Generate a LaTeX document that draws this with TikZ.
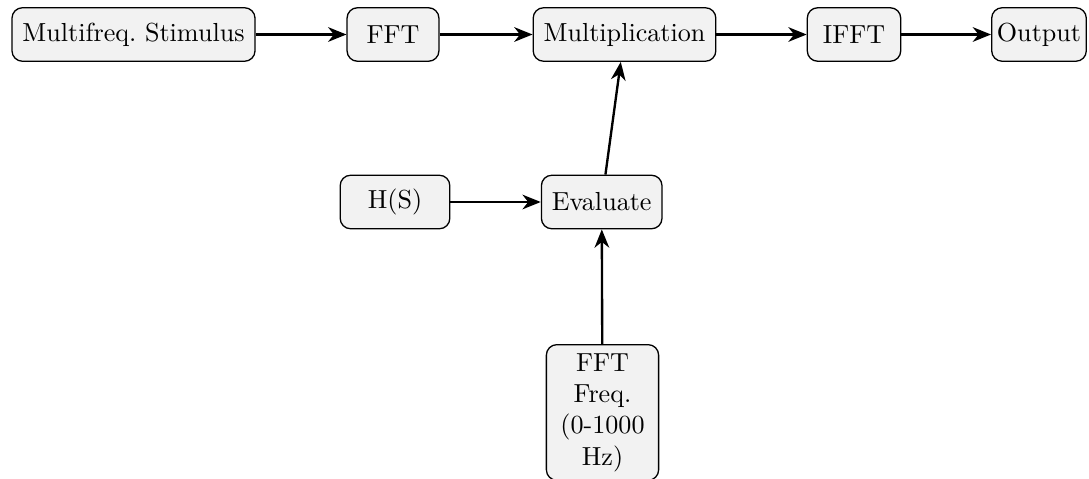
\documentclass[tikz,border=0pt]{standalone}
\usetikzlibrary{arrows.meta}
\begin{document}
\begin{tikzpicture}[x=0.3831pt, y=-0.3831pt,
  blockbox/.style={draw, line width=0.5pt, rounded corners=4pt, fill=gray!10,
    minimum height=20.5pt, inner xsep=4pt, inner ysep=3.33pt},
  conn/.style={-{Stealth[length=7pt, width=5.6pt, inset=2.2pt]}, line width=0.9pt}]
\useasboundingbox (0,0) rectangle (1089,479);
\node[blockbox] (ms) at (133.5,34.5) {Multifreq.\ Stimulus};
\node[blockbox, minimum width=35.2pt] (fft) at (393,34.5) {FFT};
\node[blockbox] (mult) at (624.5,34.5) {Multiplication};
\node[blockbox, minimum width=35.8pt] (ifft) at (854,34.5) {IFFT};
\node[blockbox, minimum width=36pt, inner xsep=2pt] (out) at (1039,34.5) {Output};
\node[blockbox, minimum width=42pt] (hs) at (395,202) {H(S)};
\node[blockbox] (eval) at (601.7,202) {Evaluate};
\node[blockbox, anchor=north, text width=35pt, align=center] (ffq) at (602.5,344)
  {FFT\\ Freq.\\ (0-1000\\ Hz)};
\draw[conn] (ms) -- (fft);
\draw[conn] (fft) -- (mult);
\draw[conn] (mult) -- (ifft);
\draw[conn] (ifft) -- (out);
\draw[conn] (hs) -- (eval);
\draw[conn] (ffq) -- (eval);
\draw[conn] (eval) -- (mult);
\end{tikzpicture}
\end{document}
